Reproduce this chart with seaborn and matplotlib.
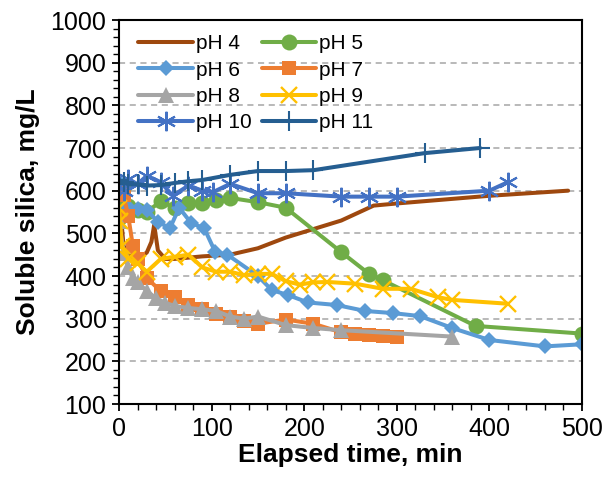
import matplotlib
matplotlib.use("Agg")
import matplotlib.pyplot as plt
from matplotlib.ticker import MultipleLocator
import pandas as pd
import seaborn as sns

# Soluble silica (mg/L) versus elapsed time (min) for each pH
t_ph4 = [0, 5, 10, 20, 30, 35, 38, 42, 50, 60, 90, 120, 150, 180, 210, 240, 260, 275, 300, 400, 485]
y_ph4 = [590, 470, 450, 440, 455, 480, 520, 460, 440, 440, 446, 450, 465, 490, 510, 530, 550, 565, 570, 588, 600]

t_ph5 = [0, 5, 10, 20, 30, 45, 60, 75, 90, 105, 120, 150, 180, 240, 270, 285, 385, 500]
y_ph5 = [535, 610, 565, 555, 550, 575, 560, 571, 572, 578, 583, 573, 560, 456, 405, 390, 283, 265]

t_ph6 = [0, 10, 20, 30, 42, 55, 65, 78, 92, 104, 117, 150, 165, 183, 204, 235, 266, 296, 325, 360, 400, 460, 500]
y_ph6 = [620, 562, 556, 555, 527, 512, 560, 524, 512, 456, 450, 400, 367, 355, 338, 332, 318, 313, 306, 278, 250, 235, 240]

t_ph7 = [0, 5, 10, 15, 20, 30, 45, 60, 75, 90, 105, 120, 135, 150, 180, 210, 240, 255, 270, 285, 300]
y_ph7 = [605, 590, 540, 470, 440, 395, 365, 350, 332, 322, 310, 305, 295, 288, 298, 288, 268, 265, 262, 260, 258]

t_ph8 = [0, 5, 10, 15, 20, 30, 40, 50, 60, 75, 90, 105, 120, 135, 150, 180, 210, 240, 360]
y_ph8 = [530, 455, 420, 395, 385, 365, 348, 337, 330, 325, 322, 318, 305, 300, 305, 285, 278, 273, 258]

t_ph9 = [0, 1, 3, 10, 20, 30, 45, 60, 75, 90, 105, 120, 135, 150, 165, 180, 195, 210, 225, 255, 285, 315, 345, 360, 420]
y_ph9 = [560, 530, 470, 440, 430, 410, 440, 445, 450, 420, 410, 410, 402, 405, 405, 388, 380, 385, 386, 382, 370, 370, 350, 344, 335]

t_ph10 = [0, 5, 10, 20, 30, 45, 58, 75, 90, 102, 120, 150, 180, 240, 270, 300, 400, 420]
y_ph10 = [610, 600, 628, 615, 635, 620, 588, 612, 600, 597, 616, 594, 594, 586, 586, 586, 600, 620]

t_ph11 = [0, 5, 10, 20, 30, 45, 60, 75, 90, 120, 150, 180, 210, 330, 390]
y_ph11 = [625, 620, 615, 615, 612, 613, 618, 622, 625, 637, 646, 646, 648, 688, 700]

series_names = ["pH 4", "pH 5", "pH 6", "pH 7", "pH 8", "pH 9", "pH 10", "pH 11"]
series_times = [t_ph4, t_ph5, t_ph6, t_ph7, t_ph8, t_ph9, t_ph10, t_ph11]
series_values = [y_ph4, y_ph5, y_ph6, y_ph7, y_ph8, y_ph9, y_ph10, y_ph11]

x_ticks = [0, 100, 200, 300, 400, 500]
y_ticks = [100, 200, 300, 400, 500, 600, 700, 800, 900, 1000]

frames = []
for name, t, v in zip(series_names, series_times, series_values):
    frames.append(pd.DataFrame({"time": t, "silica": v, "series": name}))
df = pd.concat(frames, ignore_index=True)

colors = {
    "pH 4": "#9E480E", "pH 5": "#70AD47", "pH 6": "#5B9BD5", "pH 7": "#ED7D31",
    "pH 8": "#A5A5A5", "pH 9": "#FFC000", "pH 10": "#4472C4", "pH 11": "#255E91",
}
markers = {
    "pH 4": dict(marker=None),
    "pH 5": dict(marker="o", markersize=11.5, markeredgewidth=0),
    "pH 6": dict(marker="D", markersize=8.5, markeredgewidth=0),
    "pH 7": dict(marker="s", markersize=10, markeredgewidth=0),
    "pH 8": dict(marker="^", markersize=11.5, markeredgewidth=0),
    "pH 9": dict(marker="x", markersize=11, markeredgewidth=1.7),
    "pH 10": dict(marker=(6, 2, 0), markersize=14, markeredgewidth=1.5),
    "pH 11": dict(marker="+", markersize=14, markeredgewidth=1.5),
}

sns.set_theme(style="white")
plt.rcParams["font.family"] = ["Liberation Sans", "DejaVu Sans"]
plt.rcParams["text.color"] = "black"
plt.rcParams["axes.labelcolor"] = "black"
plt.rcParams["xtick.color"] = "black"
plt.rcParams["ytick.color"] = "black"

fig = plt.figure(figsize=(6.05, 4.8), dpi=100)
ax = fig.add_axes([119 / 605, 1 - 404 / 480, (582 - 119) / 605, (404 - 20) / 480])

for name in series_names:
    sub = df[df["series"] == name]
    m = markers[name]
    sns.lineplot(
        data=sub, x="time", y="silica", ax=ax, sort=False, estimator=None,
        color=colors[name], linewidth=2.9, label=name,
        markeredgecolor=colors[name], **m,
    )

ax.set_xlim(0, 500)
ax.set_ylim(100, 1000)
ax.set_xticks(x_ticks)
ax.set_yticks(y_ticks)
ax.xaxis.set_minor_locator(MultipleLocator(20))
ax.yaxis.set_minor_locator(MultipleLocator(20))
ax.tick_params(axis="both", which="major", direction="out", length=5, width=1.3,
               labelsize=18, colors="black", pad=4, bottom=True, left=True)
ax.tick_params(axis="both", which="minor", direction="out", length=4, width=1.0,
               bottom=True, left=True)

for y in y_ticks[1:-1]:
    ax.axhline(y, color="#A6A6A6", linewidth=1.1, linestyle=(0, (4, 3)), zorder=0)

for side in ["left", "right", "top", "bottom"]:
    ax.spines[side].set_visible(True)
    ax.spines[side].set_color("black")
    ax.spines[side].set_linewidth(1.5)

ax.set_xlabel("Elapsed time, min", fontsize=19, fontweight="bold", labelpad=2)
ax.set_ylabel("Soluble silica, mg/L", fontsize=19, fontweight="bold", labelpad=8)

# Legend entries laid out row by row: pH 4 | pH 5, pH 6 | pH 7, ...
handles, labels = ax.get_legend_handles_labels()
lookup = dict(zip(labels, handles))
order = ["pH 4", "pH 6", "pH 8", "pH 10", "pH 5", "pH 7", "pH 9", "pH 11"]
ax.legend([lookup[k] for k in order], order, ncol=2, loc="upper left",
          bbox_to_anchor=(0.015, 0.995), frameon=False,
          fontsize=15, handlelength=2.6, handletextpad=0.15, columnspacing=0.5,
          labelspacing=0.35, borderaxespad=0.2)

fig.savefig("out.png", dpi=100)
